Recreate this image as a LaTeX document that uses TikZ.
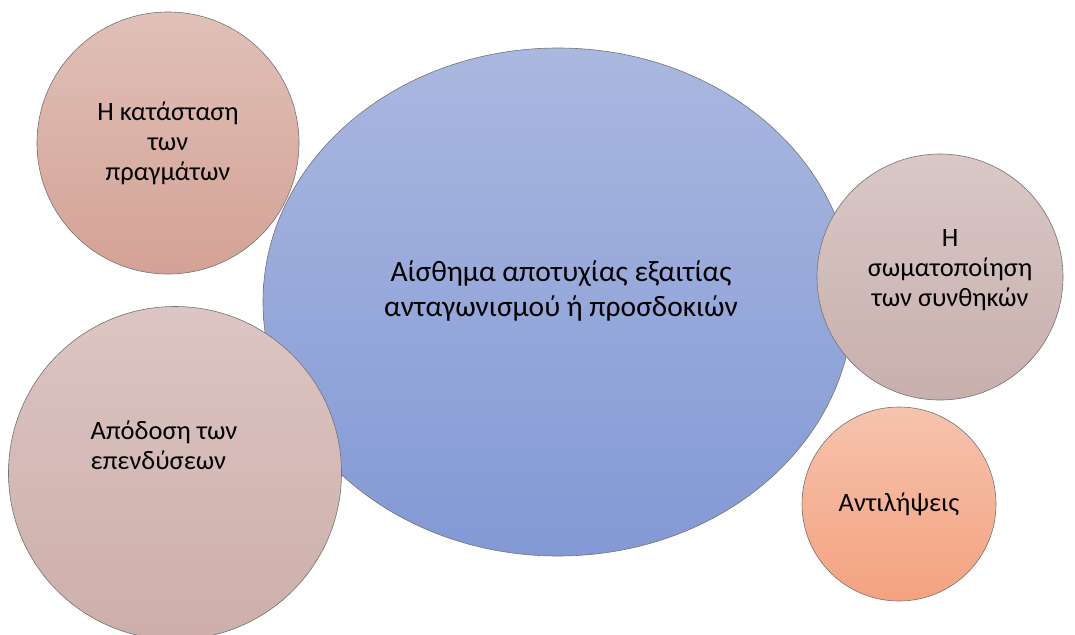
\documentclass[tikz,border=0pt]{standalone}
\usepackage{fontspec}
\setmainfont{Carlito}
\usetikzlibrary{shapes.geometric}

\definecolor{feeltop}{HTML}{AAB8E0}
\definecolor{feelbot}{HTML}{8399D5}
\definecolor{statetop}{HTML}{E0C0B8}
\definecolor{statebot}{HTML}{D4A295}
\definecolor{investtop}{HTML}{DCC5C2}
\definecolor{investbot}{HTML}{CDAEAA}
\definecolor{bodytop}{HTML}{D9C8C6}
\definecolor{bodybot}{HTML}{C7AFAC}
\definecolor{viewtop}{HTML}{F6C3AD}
\definecolor{viewbot}{HTML}{F4A27F}

\begin{document}
\begin{tikzpicture}[x=1pt, y=-1pt,
        bubble/.style = {draw=black!55, line width=0.6pt, circle,
                        inner sep=0pt, align=center},
        words/.style = {font=\fontsize{26.5}{30}\selectfont, align=center}]
        \useasboundingbox (0,0) rectangle (1075,634);

        % the big one goes first, the rest lie on top of it
        \node[bubble, ellipse, minimum width=590, minimum height=508,
              top color=feeltop, bottom color=feelbot] (feel) at (558,302) {};
        \node[words, font=\fontsize{29.5}{35}\selectfont] (feeltext) at (561,291)
              {Αίσθημα αποτυχίας εξαιτίας\\ανταγωνισμού ή προσδοκιών};

        \node[bubble, words, minimum size=262, top color=statetop,
              bottom color=statebot] (state) at (168,143)
              {Η κατάσταση\\των\\πραγμάτων};

        \node[bubble, minimum size=333, top color=investtop,
              bottom color=investbot] (invest) at (175,473) {};
        \node[words, align=left] (investtext) at (164,445)
              {Απόδοση των\\επενδύσεων};

        \node[bubble, minimum size=246, top color=bodytop,
              bottom color=bodybot] (body) at (940,277) {};
        \node[words, font=\fontsize{26.5}{30}\selectfont] (bodytext) at (950,270)
              {Η\\σωματοποίηση\\των συνθηκών};

        \node[bubble, words, minimum size=194, top color=viewtop,
              bottom color=viewbot] (view) at (899,504) {Αντιλήψεις};
    \end{tikzpicture}
\end{document}
